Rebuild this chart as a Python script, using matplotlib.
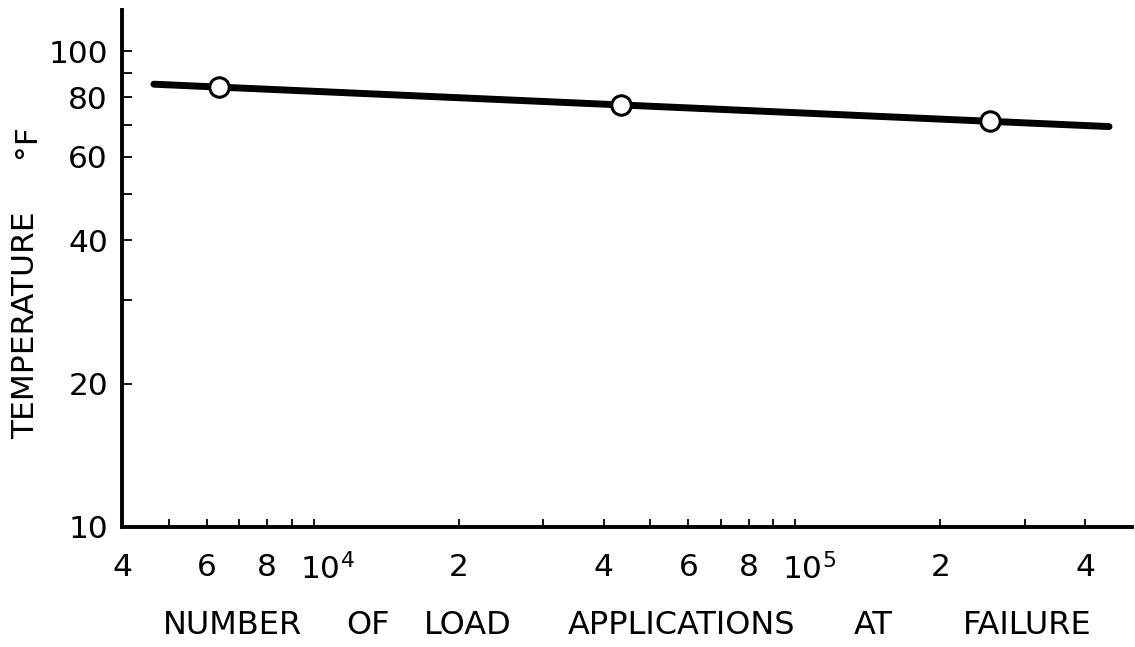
import matplotlib
matplotlib.use('Agg')
from matplotlib import pyplot as plt
from matplotlib.transforms import ScaledTranslation

# test results: load applications at failure vs temperature
cycles = [6.35e3, 4.35e4, 2.54e5]
temps = [84.0, 77.1, 71.3]

# straight line drawn through the tests
fitCycles = [4.66e3, 4.48e5]
fitTemps = [85.2, 69.4]

xTicks = [4e3, 5e3, 6e3, 7e3, 8e3, 9e3, 1e4, 2e4, 3e4, 4e4, 5e4, 6e4, 7e4, 8e4, 9e4,
          1e5, 2e5, 3e5, 4e5]
xLabels = ['4', '', '6', '', '8', '', r'$\mathregular{10^4}$', '2', '', '4', '', '6', '',
           '8', '', r'$\mathregular{10^5}$', '2', '', '4']
yTicks = [10, 20, 30, 40, 50, 60, 70, 80, 90, 100]
yLabels = ['10', '20', '', '40', '', '60', '', '80', '', '100']

xWords = ['NUMBER', 'OF', 'LOAD', 'APPLICATIONS', 'AT', 'FAILURE']
xWordPos = [232, 368, 468, 681, 873, 1027]

W, H = 1135, 647
fig = plt.figure(figsize=(W / 100, H / 100), dpi=100)
ax = fig.add_axes([122 / W, 120 / H, 1010 / W, 517 / H])

ax.plot(fitCycles, fitTemps, color='black', linewidth=5, solid_capstyle='round', zorder=2)
ax.plot(cycles, temps, linestyle='none', marker='o', markersize=14, markerfacecolor='white',
        markeredgecolor='black', markeredgewidth=2.2, zorder=3)

ax.set_xscale('log')
ax.set_yscale('log')
ax.set_xlim(4e3, 5e5)
ax.set_ylim(10, 122)

ax.xaxis.set_minor_locator(plt.NullLocator())
ax.yaxis.set_minor_locator(plt.NullLocator())
ax.set_xticks(xTicks)
ax.set_xticklabels(xLabels)
ax.set_yticks(yTicks)
ax.set_yticklabels(yLabels)

ax.tick_params(axis='both', direction='in', width=1.3, labelsize=22.5, colors='black')
ax.tick_params(axis='x', length=6, pad=19)
ax.tick_params(axis='y', length=7.5, pad=10)

# keep the "10" part of the decade labels over the tick
for lbl in ax.get_xticklabels():
    if '10^' in lbl.get_text():
        lbl.set_transform(lbl.get_transform() + ScaledTranslation(14 / 100, 0, fig.dpi_scale_trans))

for side in ['top', 'right']:
    ax.spines[side].set_visible(False)
for side in ['left', 'bottom']:
    ax.spines[side].set_linewidth(2.8)
    ax.spines[side].set_capstyle('projecting')

fig.text(26 / W, 1 - 325 / H, 'TEMPERATURE', rotation=90, fontsize=22.5,
         ha='center', va='center')
fig.text(26 / W, 1 - 141 / H, '°F', rotation=90, fontsize=22.5, ha='center', va='center')

for word, xp in zip(xWords, xWordPos):
    fig.text(xp / W, 1 - 626 / H, word, fontsize=23, ha='center', va='center')

plt.savefig('out.png', dpi=100)
